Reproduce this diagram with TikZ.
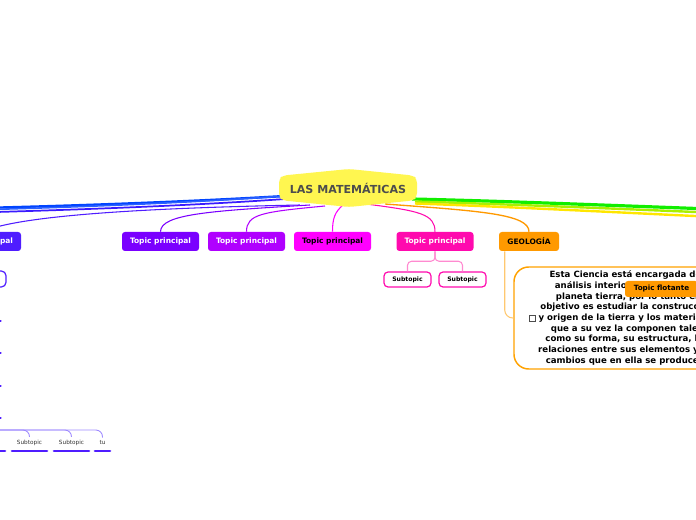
\documentclass[tikz,border=0pt]{standalone}
\usepackage{fontspec}
\setmainfont{DejaVu Sans}
\usetikzlibrary{calc}
\definecolor{cCenter}{HTML}{FFF650}
\definecolor{cTxtC}{HTML}{4D4D4D}
\definecolor{cLeft}{HTML}{4F1DFF}
\definecolor{cVone}{HTML}{7A00FF}
\definecolor{cVtwo}{HTML}{B000FF}
\definecolor{cMag}{HTML}{FF00FF}
\definecolor{cPink}{HTML}{FF0AAE}
\definecolor{cOra}{HTML}{FF9900}
\definecolor{cBoxOra}{HTML}{FFA200}
\definecolor{cGeoLine}{HTML}{FFC870}
\definecolor{cPinkLine}{HTML}{FF8AD0}
\definecolor{cSubV}{HTML}{A08CFF}
\definecolor{cBlueA}{HTML}{0044FF}
\definecolor{cBlueB}{HTML}{2A60FF}
\definecolor{cBlueC}{HTML}{3A1BFF}
\definecolor{cGreen}{HTML}{11EE00}
\definecolor{cLime}{HTML}{A8F000}
\definecolor{cYellow}{HTML}{FFE600}
\definecolor{cSubTxt}{HTML}{333333}
\begin{document}
\begin{tikzpicture}[x=0.75pt,y=-0.75pt,
  topicbox/.style={rounded corners=2.2pt, minimum width=57.75pt, minimum height=14.25pt,
    inner sep=0pt, font=\fontsize{5.6}{6.5}\selectfont\bfseries, text=white},
  subpinkbox/.style={draw=cPink, line width=0.9pt, fill=white, rounded corners=3pt,
    minimum width=35.25pt, minimum height=11.25pt, inner sep=0pt,
    font=\fontsize{4.6}{5}\selectfont\bfseries, text=black},
  conn/.style={line width=0.8pt},
  thickconn/.style={line width=1.8pt},
  subtxt/.style={inner sep=0pt, font=\fontsize{4.3}{5}\selectfont, text=cSubTxt},
  uline/.style={line width=2pt, line cap=round, cLeft},
]
\useasboundingbox (0,0) rectangle (696,520);
\clip (0,0) rectangle (696,520);

% ---------- topic nodes ----------
\node[topicbox, fill=cLeft] (tL) at (-17.5,241.5) {Topic principal};
\node[topicbox, fill=cVone] (t1) at (160.5,241.5) {Topic principal};
\node[topicbox, fill=cVtwo] (t2) at (246.5,241.5) {Topic principal};
\node[topicbox, fill=cMag, text=black] (t3) at (332.5,241.5) {Topic principal};
\node[topicbox, fill=cPink] (t4) at (435,241.5) {Topic principal};
\node[topicbox, fill=cOra, text=black, minimum width=45pt] (geo) at (529,241.5) {GEOLOGÍA};

% ---------- connectors from the centre ----------
\coordinate (cBl) at (285,196);
\coordinate (cBl2) at (285,199);
\coordinate (cR) at (412,199);
\draw[thickconn, cBlueA] (cBl) .. controls (200,201) and (100,205) .. (-10,207.8);
\draw[line width=1.2pt, cBlueB] (cBl) .. controls (200,202) and (100,206.5) .. (-10,209.5);
\draw[line width=1.3pt, cBlueC] (cBl2) .. controls (200,205) and (100,209) .. (-10,212.2);
\draw[conn, cLeft] (300,205) .. controls (150,208) and (20,215) .. (tL.north);
\draw[conn, cVone] (310,205) .. controls (210,211) and (160.5,214) .. (t1.north);
\draw[conn, cVtwo] (325,206) .. controls (262,212) and (246.5,214) .. (t2.north);
\draw[conn, cMag] (343,205) .. controls (335,212) and (332.5,218) .. (t3.north);
\draw[conn, cPink] (366,204) .. controls (420,211) and (435,214) .. (t4.north);
\draw[conn, cOra, line width=1pt] (385,204) .. controls (480,211) and (529,214) .. (geo.north);
\draw[line width=2.4pt, cGreen] (cR) .. controls (500,201) and (600,205) .. (705,208.8);
\draw[line width=1.8pt, cLime] (415,201.5) .. controls (500,204) and (600,208) .. (705,212.4);
\draw[line width=1.8pt, cYellow] (415,203.5) .. controls (500,206.5) and (600,211.5) .. (705,216.5);

% ---------- central node ----------
\fill[cCenter, rounded corners=3pt] (279,179) -- (283,175.5) -- (349,169) -- (413,175.5) -- (417,179)
  -- (417,197) -- (413,200.5) -- (349,207) -- (283,200.5) -- (279,197) -- cycle;
\node[inner sep=0pt, font=\fontsize{8.3}{9}\selectfont\bfseries, text=cTxtC] (c) at (348,188.5) {LAS MATEMÁTICAS};

% ---------- pink subtopics ----------
\node[subpinkbox] (s1) at (407.5,279.5) {Subtopic};
\node[subpinkbox] (s2) at (462.5,279.5) {Subtopic};
\draw[conn, cPinkLine, rounded corners=3pt] (t4.south) -- ++(0,10) -| (s1.north);
\draw[conn, cPinkLine, rounded corners=3pt] (t4.south) -- ++(0,10) -| (s2.north);

% ---------- geology text box ----------
\node[draw=cBoxOra, line width=1.1pt, fill=white, rounded corners=11pt,
  minimum width=169.5pt, minimum height=76.5pt, inner sep=0pt, align=center,
  font=\fontsize{6.45}{8}\selectfont\bfseries] (box) at (627,318)
  {Esta Ciencia está encargada del\\ análisis interior y exterior del\\ planeta tierra, por lo tanto el\\
   objetivo es estudiar la construcción\\ y origen de la tierra y los materiales\\
   que a su vez la componen tales\\ como su forma, su estructura, las\\
   relaciones entre sus elementos y los\\ cambios que en ella se producen.};
\draw[conn, cGeoLine, rounded corners=6pt] ($(geo.south west)+(6,0)$) |- (box.west);
\node[draw=black!70, line width=0.35pt, fill=white, minimum size=4.5pt, inner sep=0pt] (chk) at (532.5,318) {};
\node[topicbox, fill=cOra, text=black, minimum width=54.75pt, minimum height=12pt,
  font=\fontsize{5.4}{6}\selectfont\bfseries] (flo) at (661.5,289) {Topic flotante};

% ---------- left column ----------
\node[draw=cLeft, line width=0.9pt, fill=white, rounded corners=3.5pt,
  minimum width=35.25pt, minimum height=12pt, inner sep=0pt] (sL) at (-17.5,279) {};
\coordinate (d1) at (-20,321);
\coordinate (d2) at (-20,353);
\coordinate (d3) at (-20,386);
\coordinate (d4) at (-20,418);
\foreach \d in {d1,d2,d3,d4}{\draw[uline] (\d) -- ++(20.5,0);}

% ---------- bottom subtopics ----------
\node[subtxt] (b0) at (-13,443) {Subtopic};
\node[subtxt] (b1) at (29.5,443) {Subtopic};
\node[subtxt] (b2) at (71.5,443) {Subtopic};
\node[subtxt] (b3) at (102.5,443) {tu};
\coordinate (bst) at (-20,430);
\draw[conn, cSubV, line width=0.7pt, rounded corners=5pt] (bst) -| ($(b1.north)+(0,-3)$);
\draw[conn, cSubV, line width=0.7pt, rounded corners=5pt] (bst) -| ($(b2.north)+(0,-3)$);
\draw[conn, cSubV, line width=0.7pt, rounded corners=5pt] (bst) -| ($(b3.north)+(0,-3)$);
\draw[uline] ($(b0.center)+(-18,8)$) -- ($(b0.center)+(18,8)$);
\draw[uline] ($(b1.center)+(-17.5,8)$) -- ($(b1.center)+(17.5,8)$);
\draw[uline] ($(b2.center)+(-17.5,8)$) -- ($(b2.center)+(17.5,8)$);
\draw[uline] ($(b3.center)+(-7.5,8)$) -- ($(b3.center)+(7.5,8)$);
\end{tikzpicture}
\end{document}
